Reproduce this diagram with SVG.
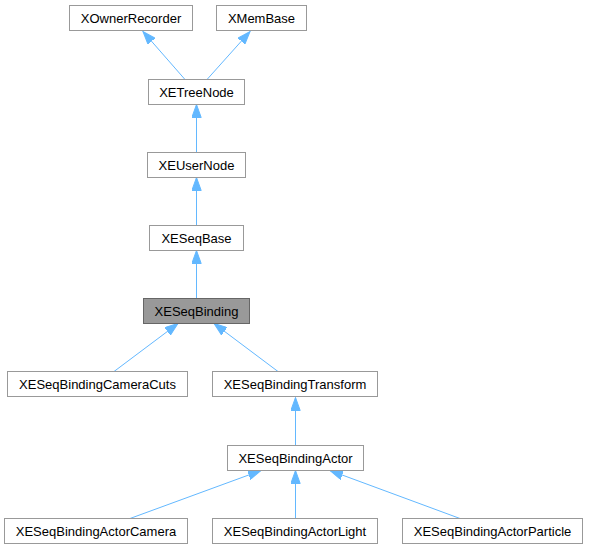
<svg xmlns="http://www.w3.org/2000/svg" width="589" height="549" viewBox="0 0 589 549">
<style>
.n rect{fill:#ffffff;stroke:#999999;stroke-width:1}
.n.hl rect{fill:#999999;stroke:#666666}
.n text{font-family:"Liberation Sans",Arial,sans-serif;font-size:13px;fill:#000000;text-anchor:middle}
.e path{fill:none;stroke:#63b8ff;stroke-width:1;marker-end:url(#arr)}
</style>
<defs>
<marker id="arr" markerUnits="userSpaceOnUse" markerWidth="14" markerHeight="10" viewBox="0 -5 14 10" refX="13" refY="0" orient="auto">
<path d="M0,-4.7 L13,0 L0,4.7 Z" fill="#63b8ff" stroke="#63b8ff" stroke-width="1"/>
</marker>
</defs>
<rect width="589" height="549" fill="#ffffff"/>
<g id="edges" class="e">
<path d="M185,79.5 L143,31.5"/>
<path d="M207,79.5 L250,31.5"/>
<path d="M196.5,152.5 L196.5,104.5"/>
<path d="M196.5,225.5 L196.5,177.5"/>
<path d="M196.5,298.5 L196.5,250.5"/>
<path d="M114,371.5 L178,323.5"/>
<path d="M278,371.5 L214,323.5"/>
<path d="M295.5,445.5 L295.5,397.5"/>
<path d="M130,518.5 L261,470.5"/>
<path d="M295.5,518.5 L295.5,470.5"/>
<path d="M460,518.5 L330,470.5"/>
</g>
<g id="XOwnerRecorder" class="n"><rect x="69.5" y="5.5" width="123" height="25"/><text x="131" y="22.5">XOwnerRecorder</text></g>
<g id="XMemBase" class="n"><rect x="216.5" y="5.5" width="90" height="25"/><text x="261.5" y="22.5">XMemBase</text></g>
<g id="XETreeNode" class="n"><rect x="148.5" y="79.5" width="96" height="25"/><text x="196.5" y="96.5">XETreeNode</text></g>
<g id="XEUserNode" class="n"><rect x="147.5" y="152.5" width="98" height="25"/><text x="196.5" y="169.5">XEUserNode</text></g>
<g id="XESeqBase" class="n"><rect x="149.5" y="225.5" width="94" height="25"/><text x="196.5" y="242.5">XESeqBase</text></g>
<g id="XESeqBinding" class="n hl"><rect x="143.5" y="298.5" width="106" height="25"/><text x="196.5" y="315.5">XESeqBinding</text></g>
<g id="XESeqBindingCameraCuts" class="n"><rect x="7.5" y="371.5" width="180" height="25"/><text x="97.5" y="388.5">XESeqBindingCameraCuts</text></g>
<g id="XESeqBindingTransform" class="n"><rect x="212.5" y="371.5" width="165" height="25"/><text x="295" y="388.5">XESeqBindingTransform</text></g>
<g id="XESeqBindingActor" class="n"><rect x="227.5" y="445.5" width="136" height="25"/><text x="295.5" y="462.5">XESeqBindingActor</text></g>
<g id="XESeqBindingActorCamera" class="n"><rect x="4.5" y="518.5" width="183" height="25"/><text x="96" y="535.5">XESeqBindingActorCamera</text></g>
<g id="XESeqBindingActorLight" class="n"><rect x="212.5" y="518.5" width="165" height="25"/><text x="295" y="535.5">XESeqBindingActorLight</text></g>
<g id="XESeqBindingActorParticle" class="n"><rect x="402.5" y="518.5" width="180" height="25"/><text x="492.5" y="535.5">XESeqBindingActorParticle</text></g>
</svg>
